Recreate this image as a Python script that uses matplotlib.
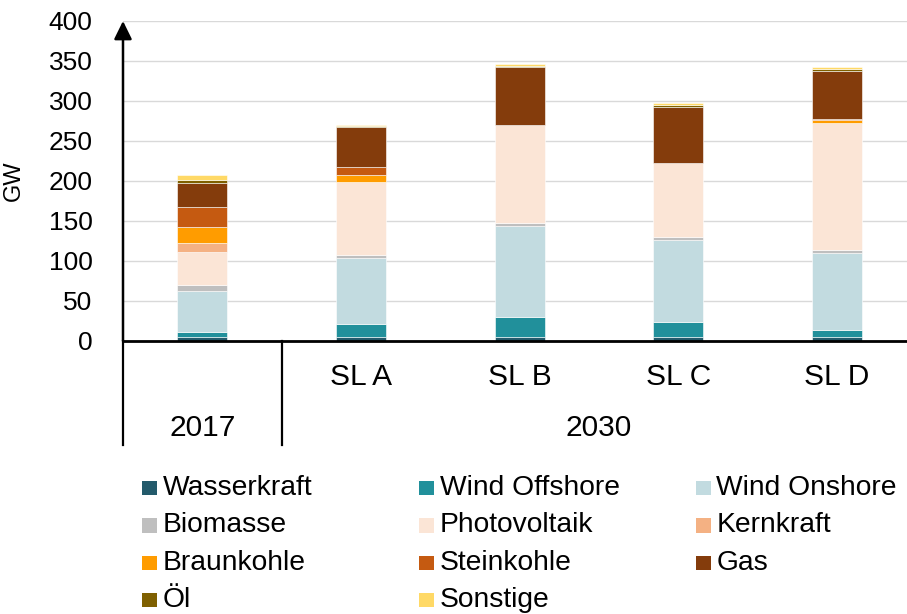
import numpy as np
import matplotlib.pyplot as plt
from matplotlib.patches import Rectangle
import matplotlib.transforms as mtransforms

plt.rcParams['font.family'] = ['Liberation Sans', 'DejaVu Sans']

# data (GW)
bars = ['2017', 'SL A', 'SL B', 'SL C', 'SL D']
bar_labels = ['', 'SL A', 'SL B', 'SL C', 'SL D']
groups = ['2017', '2030']
group_members = [[0], [1, 2, 3, 4]]

wasserkraft = [5, 5, 5, 5, 5]
wind_offshore = [6, 16, 25, 19, 9]
wind_onshore = [51, 83, 114, 102, 96]
biomasse = [8, 4, 4, 4, 4]
photovoltaik = [41, 91, 122, 93, 159]
kernkraft = [11, 0, 0, 0, 0]
braunkohle = [21, 9, 0, 0, 3]
steinkohle = [25, 10, 0, 0, 1]
gas = [29, 49, 73, 70, 61]
oel = [4, 1.5, 1, 1.5, 2]
sonstige = [6.5, 2, 2, 2.5, 2.5]

series = [
    ('Wasserkraft', wasserkraft, '#235a6b'),
    ('Wind Offshore', wind_offshore, '#21909b'),
    ('Wind Onshore', wind_onshore, '#c2dbe0'),
    ('Biomasse', biomasse, '#bfbfbf'),
    ('Photovoltaik', photovoltaik, '#fbe5d6'),
    ('Kernkraft', kernkraft, '#f4b183'),
    ('Braunkohle', braunkohle, '#ff9c00'),
    ('Steinkohle', steinkohle, '#c55a11'),
    ('Gas', gas, '#843c0c'),
    ('Öl', oel, '#7f6000'),
    ('Sonstige', sonstige, '#ffd966'),
]

W, H = 907, 614
fig = plt.figure(figsize=(W / 100, H / 100), dpi=100)
ax = fig.add_axes([123 / W, (H - 341) / H, 1 - 123 / W, 320 / H])

x = np.arange(len(bars))
bottom = np.zeros(len(bars))
for name, vals, col in series:
    vals = np.array(vals, dtype=float)
    ax.bar(x, vals, width=0.315, bottom=bottom, color=col, label=name,
           edgecolor='white', linewidth=0.4, zorder=3)
    bottom += vals

ax.set_xlim(-0.5, 4.44)
ax.set_ylim(0, 400)
ax.set_yticks(np.arange(0, 401, 50))
ax.grid(axis='y', color='#d9d9d9', linewidth=1.0, zorder=0)
ax.tick_params(axis='y', length=0, pad=22, labelsize=19)
ax.set_xticks([])
for s in ['top', 'right', 'left']:
    ax.spines[s].set_visible(False)
ax.spines['bottom'].set_linewidth(2)
ax.spines['bottom'].set_zorder(5)

# y axis with arrow
ax.annotate('', xy=(-0.5, 1.0), xytext=(-0.5, 0),
            xycoords=mtransforms.blended_transform_factory(ax.transData, ax.transAxes),
            arrowprops=dict(arrowstyle='-|>,head_length=0.55,head_width=0.27',
                            mutation_scale=20, color='black', lw=1.8,
                            shrinkA=0, shrinkB=0), annotation_clip=False)

ax.set_ylabel('GW', fontsize=17)
ax.yaxis.set_label_coords(-0.125, 0.5)

# category axis
trans = mtransforms.blended_transform_factory(ax.transData, ax.transAxes)
for xi, lab in zip(x, bar_labels):
    ax.text(xi, -0.1125, lab, transform=trans, ha='center', va='center',
            fontsize=21.5)
for g, members in zip(groups, group_members):
    ax.text(np.mean(members), -0.272, g, transform=trans, ha='center',
            va='center', fontsize=21.5)
for xl in [-0.5, 0.5]:
    ax.plot([xl, xl], [0, -0.325], transform=trans, color='black', lw=1.6,
            clip_on=False)

# legend, 3 columns laid out row-wise
col_x = [142, 419, 696]
row_y = [488, 525.5, 563, 600]
sq = 14.5
for i, (name, vals, col) in enumerate(series):
    r, c = divmod(i, 3)
    px, py = col_x[c], row_y[r]
    fig.patches.append(Rectangle((px / W, (H - py - sq / 2) / H), sq / W, sq / H,
                                 transform=fig.transFigure, facecolor=col,
                                 edgecolor='none'))
    fig.text((px + sq + 6) / W, (H - py) / H, name, ha='left', va='center',
             fontsize=20.3)

fig.savefig('out.png', dpi=100)
